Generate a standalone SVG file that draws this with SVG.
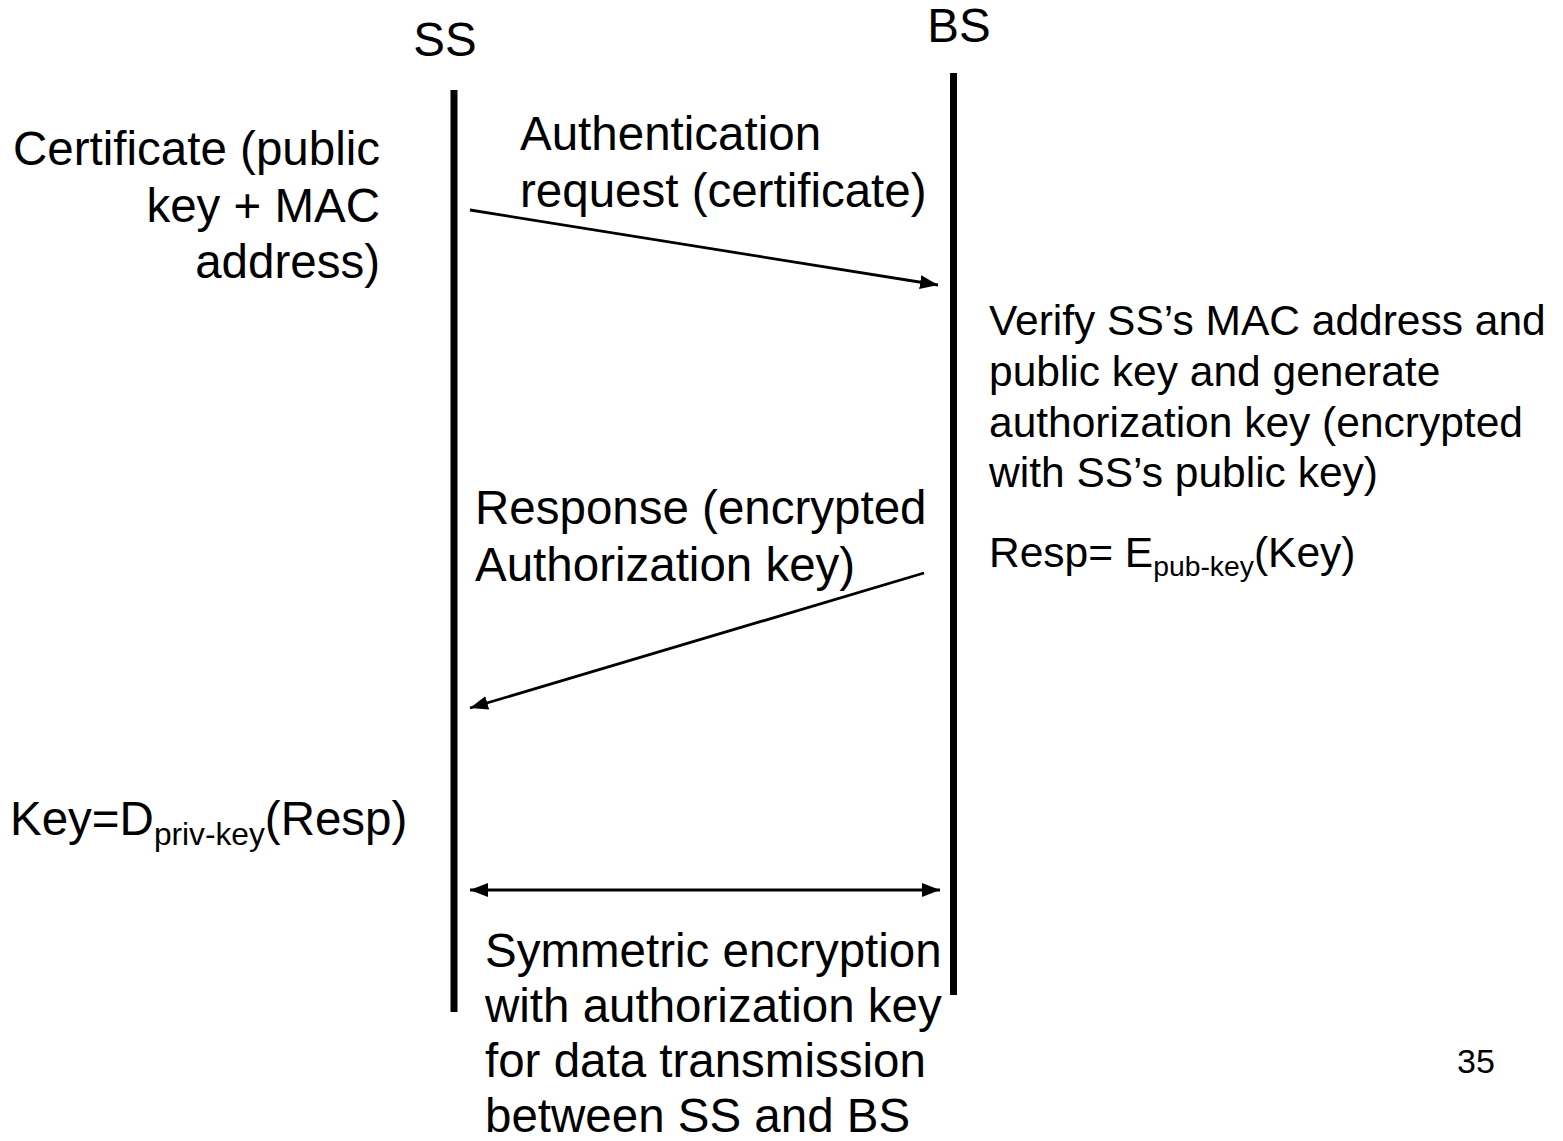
<svg xmlns="http://www.w3.org/2000/svg" width="1563" height="1141" viewBox="0 0 1563 1141">
  <style>
    text { font-family: "Liberation Sans", Arial, sans-serif; fill: #000; }
    .big { font-size: 47.5px; }
    .mid { font-size: 42.5px; }
    .lifeline { stroke: #000; stroke-width: 7; fill: none; }
    .msg { stroke: #000; stroke-width: 2.8; fill: none; }
  </style>
  <defs>
    <marker id="head" markerUnits="userSpaceOnUse" markerWidth="20" markerHeight="16" refX="18" refY="7" orient="auto-start-reverse">
      <path d="M0,0 L18,7 L0,14 z" fill="#000"/>
    </marker>
  </defs>

  <rect width="1563" height="1141" fill="#fff"/>

  <!-- Subscriber station lifeline -->
  <g id="ss">
    <text class="big" x="445" y="56" text-anchor="middle">SS</text>
    <line class="lifeline" x1="454" y1="90" x2="454" y2="1012"/>
  </g>

  <!-- Base station lifeline -->
  <g id="bs">
    <text class="big" x="959" y="42" text-anchor="middle">BS</text>
    <line class="lifeline" x1="953.5" y1="73" x2="953.5" y2="995"/>
  </g>

  <!-- SS side notes -->
  <g id="certificate">
    <text class="big" x="380" y="165" text-anchor="end">Certificate (public</text>
    <text class="big" x="380" y="222" text-anchor="end">key + MAC</text>
    <text class="big" x="380" y="278" text-anchor="end">address)</text>
  </g>

  <g id="decrypt">
    <text class="big" x="10" y="835">Key=D<tspan font-size="31.7" dy="10">priv-key</tspan><tspan dy="-10">(Resp)</tspan></text>
  </g>

  <!-- BS side notes -->
  <g id="verify">
    <text class="mid" x="989" y="335">Verify SS’s MAC address and</text>
    <text class="mid" x="989" y="386">public key and generate</text>
    <text class="mid" x="989" y="437">authorization key (encrypted</text>
    <text class="mid" x="989" y="487">with SS’s public key)</text>
    <text class="mid" x="989" y="567">Resp= E<tspan font-size="28.3" dy="9">pub-key</tspan><tspan dy="-9">(Key)</tspan></text>
  </g>

  <!-- Message labels -->
  <g id="auth-request">
    <text class="big" x="520" y="150">Authentication</text>
    <text class="big" x="520" y="207">request (certificate)</text>
  </g>

  <g id="auth-response">
    <text class="big" x="475" y="524">Response (encrypted</text>
    <text class="big" x="475" y="581">Authorization key)</text>
  </g>

  <g id="data-exchange">
    <text class="big" x="485" y="967">Symmetric encryption</text>
    <text class="big" x="485" y="1022">with authorization key</text>
    <text class="big" x="485" y="1077">for data transmission</text>
    <text class="big" x="485" y="1132">between SS and BS</text>
  </g>

  <g id="page-number">
    <text x="1457" y="1073" font-size="34">35</text>
  </g>

  <!-- Messages between SS and BS -->
  <g id="connectors">
    <line class="msg" x1="470" y1="210" x2="938" y2="285" marker-end="url(#head)"/>
    <line class="msg" x1="924" y1="573" x2="470" y2="708" marker-end="url(#head)"/>
    <line class="msg" x1="470" y1="890" x2="940" y2="890" marker-start="url(#head)" marker-end="url(#head)"/>
  </g>
</svg>
